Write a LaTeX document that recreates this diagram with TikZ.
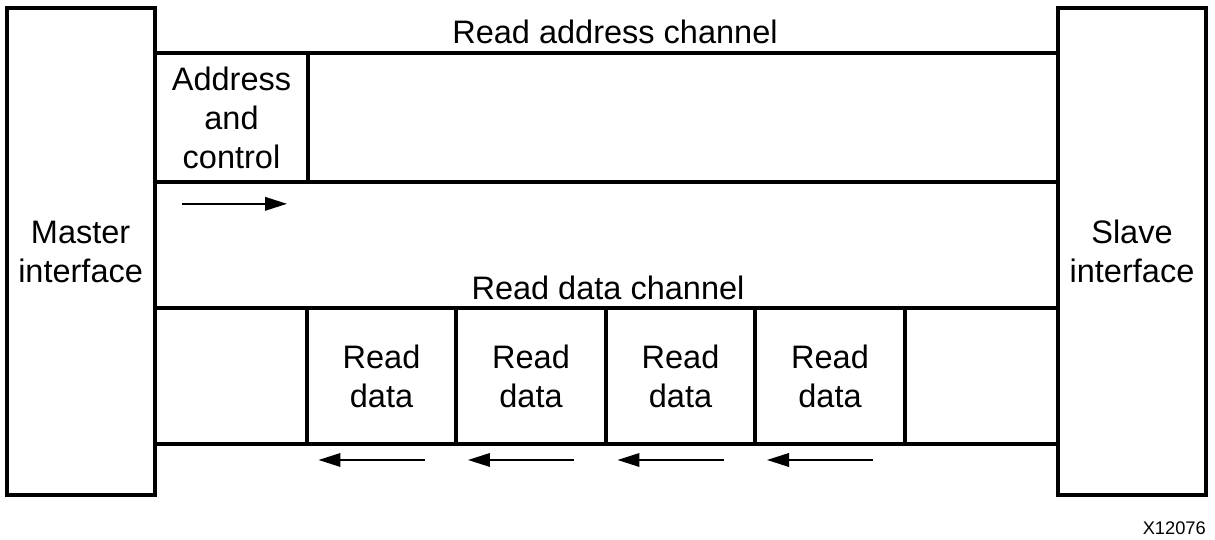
\documentclass[tikz,border=0pt]{standalone}
\usepackage{fontspec}
\setmainfont{Liberation Sans}
\usepackage{tikz}
\usetikzlibrary{arrows.meta, positioning, calc}

\begin{document}
\begin{tikzpicture}[
      x=0.02cm, y=-0.02cm,
      >={Triangle[length=0.44cm, width=0.27cm]},
      iface/.style={draw, line width=2.3pt, outer sep=0pt, align=center,
                    minimum width=2.96cm, minimum height=9.75cm,
                    font=\fontsize{18.5}{22.2}\selectfont},
      cell/.style={draw, line width=2.3pt, outer sep=0pt, align=center,
                   minimum width=2.99cm, minimum height=2.72cm,
                   font=\fontsize{18.5}{22.2}\selectfont},
      chan/.style={line width=2.3pt},
      lbl/.style={font=\fontsize{18.5}{22.2}\selectfont},
      arr/.style={->, line width=1.1pt}
    ]
      \useasboundingbox (0,0) rectangle (1215,540);
      % interfaces
      \node[iface] (master) at (80.6,251.75) {Master\\interface};
      \node[iface] (slave)  at (1132,251.75) {Slave\\interface};
      % read address channel
      \node[cell, minimum width=3.06cm, minimum height=2.57cm] (addr) at (231.5,117.6) {Address\\and\\control};
      \draw[chan] (master.east |- addr.north) -- (slave.west |- addr.north);
      \draw[chan] (addr.south) -- (slave.west |- addr.south);
      \node[lbl] (rachan) at (615,32) {Read address channel};
      \draw[arr] ($(addr.south)+(-49.5,22)$) -- ++(105,0);
      % read data channel
      \foreach \i in {1,...,4}
        \node[cell] (rd\i) at ({381.5+149.5*(\i-1)},376) {Read\\data};
      \draw[chan] (master.east |- rd1.north) -- (slave.west |- rd1.north);
      \draw[chan] (master.east |- rd1.south) -- (slave.west |- rd1.south);
      \node[lbl] (rdchan) at (608,288) {Read data channel};
      \foreach \i in {1,...,4}
        \draw[arr] ($(rd\i.south)+(43,16)$) -- ++(-106,0);
      \node[font=\fontsize{10.4}{12}\selectfont, anchor=east] (fig) at (1212,528) {X12076};
    \end{tikzpicture}
\end{document}
